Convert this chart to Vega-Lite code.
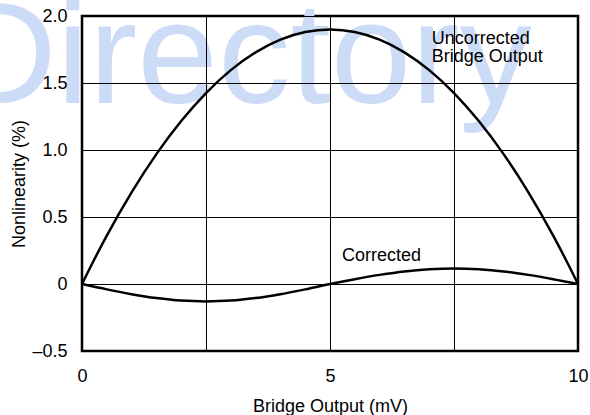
{
  "$schema": "https://vega.github.io/schema/vega-lite/v6.json",
  "width": 496,
  "height": 335,
  "autosize": "none",
  "padding": {"left": 82, "top": 16, "right": 12, "bottom": 64},
  "config": {
    "view": {"stroke": "#000", "strokeWidth": 2.5},
    "font": "Liberation Sans",
    "background": "#ffffff"
  },
  "datasets": {
    "watermark": [{"x": -2.62, "y": 1.351, "text": "Directory"}],
    "curves": [
      {"x": 0, "y": 0, "series": "Uncorrected"},
      {"x": 0.25, "y": 0.185, "series": "Uncorrected"},
      {"x": 0.5, "y": 0.361, "series": "Uncorrected"},
      {"x": 1, "y": 0.684, "series": "Uncorrected"},
      {"x": 1.5, "y": 0.969, "series": "Uncorrected"},
      {"x": 2, "y": 1.216, "series": "Uncorrected"},
      {"x": 2.5, "y": 1.425, "series": "Uncorrected"},
      {"x": 3, "y": 1.596, "series": "Uncorrected"},
      {"x": 3.5, "y": 1.729, "series": "Uncorrected"},
      {"x": 4, "y": 1.824, "series": "Uncorrected"},
      {"x": 4.5, "y": 1.881, "series": "Uncorrected"},
      {"x": 5, "y": 1.9, "series": "Uncorrected"},
      {"x": 5.5, "y": 1.881, "series": "Uncorrected"},
      {"x": 6, "y": 1.824, "series": "Uncorrected"},
      {"x": 6.5, "y": 1.729, "series": "Uncorrected"},
      {"x": 7, "y": 1.596, "series": "Uncorrected"},
      {"x": 7.5, "y": 1.425, "series": "Uncorrected"},
      {"x": 8, "y": 1.216, "series": "Uncorrected"},
      {"x": 8.5, "y": 0.969, "series": "Uncorrected"},
      {"x": 9, "y": 0.684, "series": "Uncorrected"},
      {"x": 9.5, "y": 0.361, "series": "Uncorrected"},
      {"x": 9.75, "y": 0.185, "series": "Uncorrected"},
      {"x": 10, "y": 0, "series": "Uncorrected"},
      {"x": 0, "y": 0, "series": "Corrected"},
      {"x": 0.5, "y": -0.04, "series": "Corrected"},
      {"x": 1, "y": -0.076, "series": "Corrected"},
      {"x": 1.5, "y": -0.105, "series": "Corrected"},
      {"x": 2, "y": -0.124, "series": "Corrected"},
      {"x": 2.5, "y": -0.13, "series": "Corrected"},
      {"x": 3, "y": -0.124, "series": "Corrected"},
      {"x": 3.5, "y": -0.105, "series": "Corrected"},
      {"x": 4, "y": -0.076, "series": "Corrected"},
      {"x": 4.5, "y": -0.04, "series": "Corrected"},
      {"x": 5, "y": 0, "series": "Corrected"},
      {"x": 5.5, "y": 0.036, "series": "Corrected"},
      {"x": 6, "y": 0.068, "series": "Corrected"},
      {"x": 6.5, "y": 0.094, "series": "Corrected"},
      {"x": 7, "y": 0.11, "series": "Corrected"},
      {"x": 7.5, "y": 0.116, "series": "Corrected"},
      {"x": 8, "y": 0.11, "series": "Corrected"},
      {"x": 8.5, "y": 0.094, "series": "Corrected"},
      {"x": 9, "y": 0.068, "series": "Corrected"},
      {"x": 9.5, "y": 0.036, "series": "Corrected"},
      {"x": 10, "y": 0, "series": "Corrected"}
    ],
    "labels": [
      {"x": 7.05, "y": 1.791, "text": "Uncorrected"},
      {"x": 7.05, "y": 1.657, "text": "Bridge Output"},
      {"x": 5.24, "y": 0.175, "text": "Corrected"}
    ]
  },
  "encoding": {
    "x": {
      "field": "x",
      "type": "quantitative",
      "scale": {"domain": [0, 10], "nice": false, "zero": false},
      "axis": {
        "title": "Bridge Output (mV)",
        "values": [0, 2.5, 5, 7.5, 10],
        "labelExpr": "datum.value % 5 == 0 ? datum.label : ''",
        "labelFlush": false,
        "grid": true,
        "gridColor": "#000",
        "gridWidth": 1,
        "ticks": false,
        "tickSize": 0,
        "domain": false,
        "labelFont": "Liberation Sans",
        "labelFontSize": 18,
        "labelColor": "#000",
        "labelPadding": 16,
        "titleFont": "Liberation Sans",
        "titleFontSize": 18,
        "titleFontWeight": "normal",
        "titleColor": "#000",
        "titlePadding": 12,
        "zindex": 1
      }
    },
    "y": {
      "field": "y",
      "type": "quantitative",
      "scale": {"domain": [-0.5, 2], "nice": false, "zero": false},
      "axis": {
        "title": "Nonlinearity (%)",
        "values": [-0.5, 0, 0.5, 1, 1.5, 2],
        "labelExpr": "datum.value == 0 ? '0' : (datum.value < 0 ? '\u2013' + format(-datum.value, '.1f') : format(datum.value, '.1f'))",
        "labelFlush": false,
        "grid": true,
        "gridColor": "#000",
        "gridWidth": 1,
        "ticks": false,
        "tickSize": 0,
        "domain": false,
        "labelFont": "Liberation Sans",
        "labelFontSize": 18,
        "labelColor": "#000",
        "labelPadding": 15,
        "titleFont": "Liberation Sans",
        "titleFontSize": 18,
        "titleFontWeight": "normal",
        "titleColor": "#000",
        "titlePadding": 3,
        "zindex": 1
      }
    }
  },
  "layer": [
    {
      "data": {"name": "watermark"},
      "mark": {"type": "text", "align": "left", "baseline": "alphabetic", "font": "Liberation Sans", "fontSize": 145, "color": "#ccdcf7"},
      "encoding": {"text": {"field": "text"}}
    },
    {
      "data": {"name": "curves"},
      "mark": {"type": "line", "color": "#000", "strokeWidth": 2.5, "interpolate": "monotone"},
      "encoding": {"detail": {"field": "series"}}
    },
    {
      "data": {"name": "labels"},
      "mark": {"type": "text", "align": "left", "baseline": "alphabetic", "font": "Liberation Sans", "fontSize": 18, "color": "#000"},
      "encoding": {"text": {"field": "text"}}
    }
  ]
}
